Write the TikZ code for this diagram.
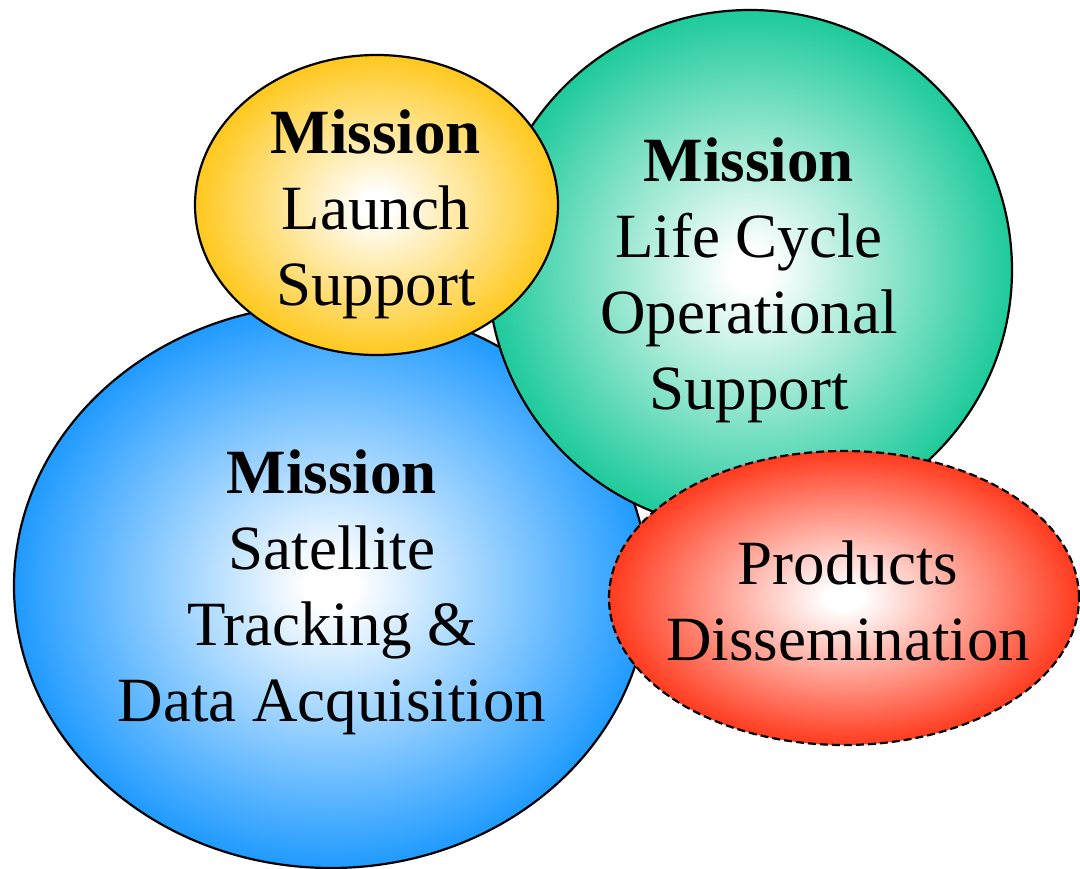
\documentclass[tikz,border=0pt]{standalone}
\usepackage{fontspec}
\setmainfont{Liberation Serif}
\usetikzlibrary{shapes.geometric}
\definecolor{trackblue}{RGB}{22,150,255}
\definecolor{lifegreen}{RGB}{20,200,150}
\definecolor{launchyellow}{RGB}{255,198,20}
\definecolor{prodred}{RGB}{255,50,20}
\colorlet{glowcol}{white}
\pgfdeclareradialshading[glowcol]{glow}{\pgfpoint{0bp}{0bp}}{color(0bp)=(white); color(2bp)=(white); color(26bp)=(glowcol); color(50bp)=(glowcol)}

\begin{document}
\begin{tikzpicture}[x=1pt, y=-1pt,
	blob/.style={ellipse, draw, line width=2.2pt, inner sep=0pt, /utils/exec={\colorlet{glowcol}{#1}}, shading=glow},
	txt/.style={align=center, font=\fontsize{63}{76}\selectfont}]
	\useasboundingbox (0,0) rectangle (1080,869);

	\node[blob=trackblue, minimum width=634pt, minimum height=564pt] (0) at (331,586) {};
	\node[blob=lifegreen, minimum width=524pt, minimum height=520pt] (1) at (750,270) {};
	\node[blob=launchyellow, minimum width=363pt, minimum height=300pt] (2) at (376.5,205) {};
	\node[blob=prodred, dash pattern=on 8pt off 4pt, minimum width=470pt, minimum height=294pt] (3) at (844,598) {};

	\node[txt] (t0) at (332,592) {\textbf{Mission}\\Satellite\\Tracking \&\\Data Acquisition};
	\node[txt] (t1) at (749,280) {\textbf{Mission}\\Life Cycle\\Operational\\Support};
	\node[txt] (t2) at (376,214) {\textbf{Mission}\\Launch\\Support};
	\node[txt] (t3) at (848,601) {Products\\Dissemination};
\end{tikzpicture}
\end{document}
